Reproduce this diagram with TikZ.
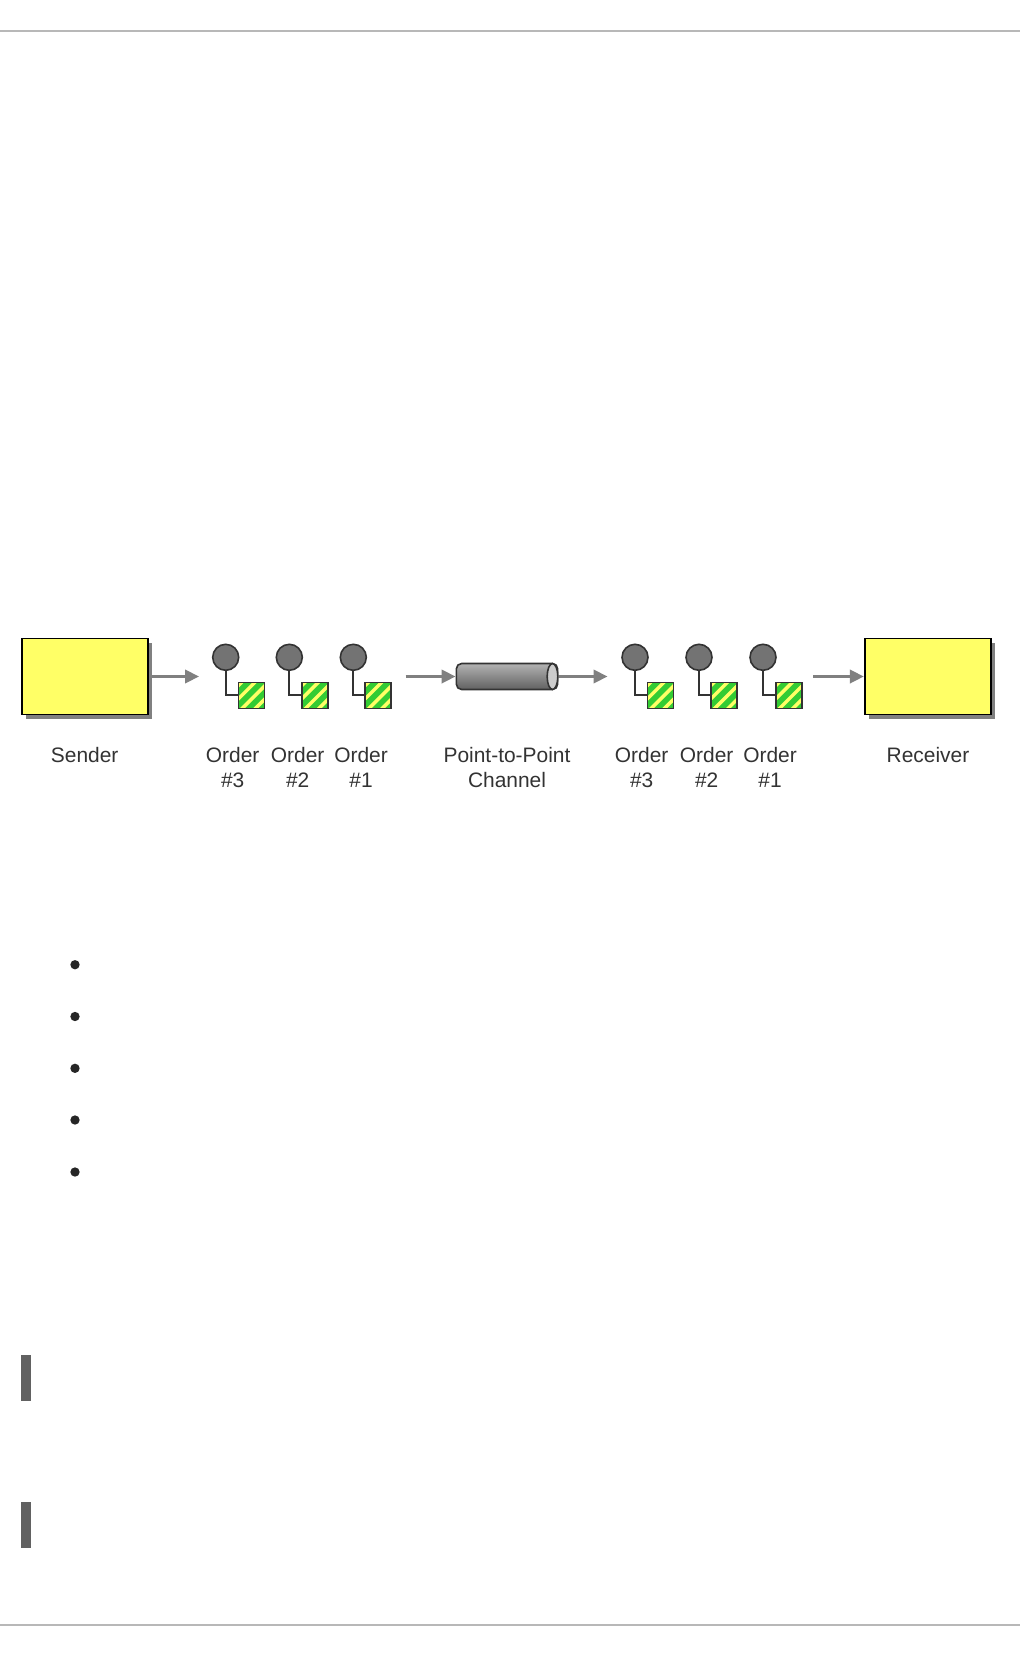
\documentclass[tikz,border=0pt]{standalone}
\usepackage{fontspec}
\setmainfont{Liberation Sans}
\usepackage{xcolor}
\usetikzlibrary{arrows.meta, positioning, shapes.geometric}
\definecolor{boxyellow}{HTML}{FFFF66}
\definecolor{stripegreen}{HTML}{33CC33}
\definecolor{flowgray}{HTML}{808080}
\definecolor{edgedark}{HTML}{333333}

\begin{document}
\begin{tikzpicture}[x=0.75pt, y=-0.75pt,
    endpoint/.style={rectangle, draw=black, line width=1.3pt, fill=boxyellow, minimum width=95pt, minimum height=57pt, inner sep=0pt},
    shadowbox/.style={rectangle, fill=flowgray, minimum width=95pt, minimum height=57pt, inner sep=0pt},
    flow/.style={draw=flowgray, line width=2.2pt, -{Triangle[length=10.5pt, width=10pt]}},
    head/.style={circle, draw=edgedark, line width=1.2pt, fill=black!55, minimum size=19.5pt, inner sep=0pt},
    body/.style={rectangle, draw=edgedark, line width=1.2pt, fill=stripegreen, minimum size=19.5pt, inner sep=0pt,
        path picture={
            \foreach \k in {-29,-19,-9,1}
                \draw[boxyellow, line width=2.6pt] ([xshift=\k pt, yshift=-12pt]path picture bounding box.center) -- ++(24pt,24pt);
        }},
    link/.style={draw=edgedark, line width=1.3pt},
    caption/.style={align=center, text=black!80, font=\fontsize{15.7}{18.75}\selectfont, inner sep=0pt, anchor=north},
    rule/.style={draw=black!28, line width=1.5pt},
    dot/.style={circle, fill=black!85, minimum size=7pt, inner sep=0pt},
    bar/.style={rectangle, fill=black!62, minimum width=7.5pt, minimum height=34.5pt, inner sep=0pt}]

    \useasboundingbox[fill=white] (0, 0) rectangle (1020, 1656);

    % page rules
    \coordinate (topl) at (0, 30.5);
    \coordinate (topr) at (1020, 30.5);
    \coordinate (botl) at (0, 1624.5);
    \coordinate (botr) at (1020, 1624.5);
    \draw[rule] (topl) -- (topr);
    \draw[rule] (botl) -- (botr);

    % sender and receiver
    \node[shadowbox] (sendershadow) at (89, 680.5) {};
    \node[endpoint] (sender) at (85, 676.5) {};
    \node[shadowbox] (receivershadow) at (932, 680.5) {};
    \node[endpoint] (receiver) at (928, 676.5) {};

    % channel
    \node[rectangle, rounded corners=4pt, draw=edgedark, line width=1.2pt, top color=black!30, bottom color=black!62,
        minimum width=76pt, minimum height=19.5pt, inner sep=0pt] (channel) at (507, 676.5) {};
    \node[ellipse, draw=edgedark, line width=1.2pt, fill=black!20, minimum width=8pt, minimum height=19.5pt, inner sep=0pt] (channelend) at (552.5, 676.5) {};

    % messages
    \foreach \name/\hx/\bx in {a/225.7/251.3, b/289.3/314.7, c/353.3/378, d/635/660.3, e/699/723.8, f/763/788.7} {
        \node[head] (head\name) at (\hx, 657.3) {};
        \node[body] (body\name) at (\bx, 695.3) {};
        \draw[link] (head\name.south) |- (body\name.west);
    }

    % flow arrows
    \coordinate (outa) at (152, 676.5);
    \coordinate (ina) at (199, 676.5);
    \coordinate (outb) at (405.5, 676.5);
    \coordinate (outc) at (607.5, 676.5);
    \coordinate (outd) at (813, 676.5);
    \draw[flow] (outa) -- (ina);
    \draw[flow] (outb) -- (channel.west);
    \draw[flow] (channelend.east) -- (outc);
    \draw[flow] (outd) -- (receiver.west);

    % captions
    \node[caption] (sendertext) at (84.7, 747) {Sender};
    \node[caption] (orderc) at (232.7, 747) {Order\\\#3};
    \node[caption] (orderb) at (297.7, 747) {Order\\\#2};
    \node[caption] (ordera) at (361, 747) {Order\\\#1};
    \node[caption] (channeltext) at (507, 747) {Point-to-Point\\Channel};
    \node[caption] (orderf) at (641.7, 747) {Order\\\#3};
    \node[caption] (ordere) at (706.7, 747) {Order\\\#2};
    \node[caption] (orderd) at (770, 747) {Order\\\#1};
    \node[caption] (receivertext) at (928, 747) {Receiver};

    % list bullets
    \foreach \y [count=\i] in {964.7, 1016.5, 1068.3, 1120, 1172}
        \node[dot] (bullet\i) at (75, \y) {};

    % side bars
    \node[bar] (bara) at (26, 1378) {};
    \node[bar] (barb) at (26, 1525) {};
\end{tikzpicture}
\end{document}
